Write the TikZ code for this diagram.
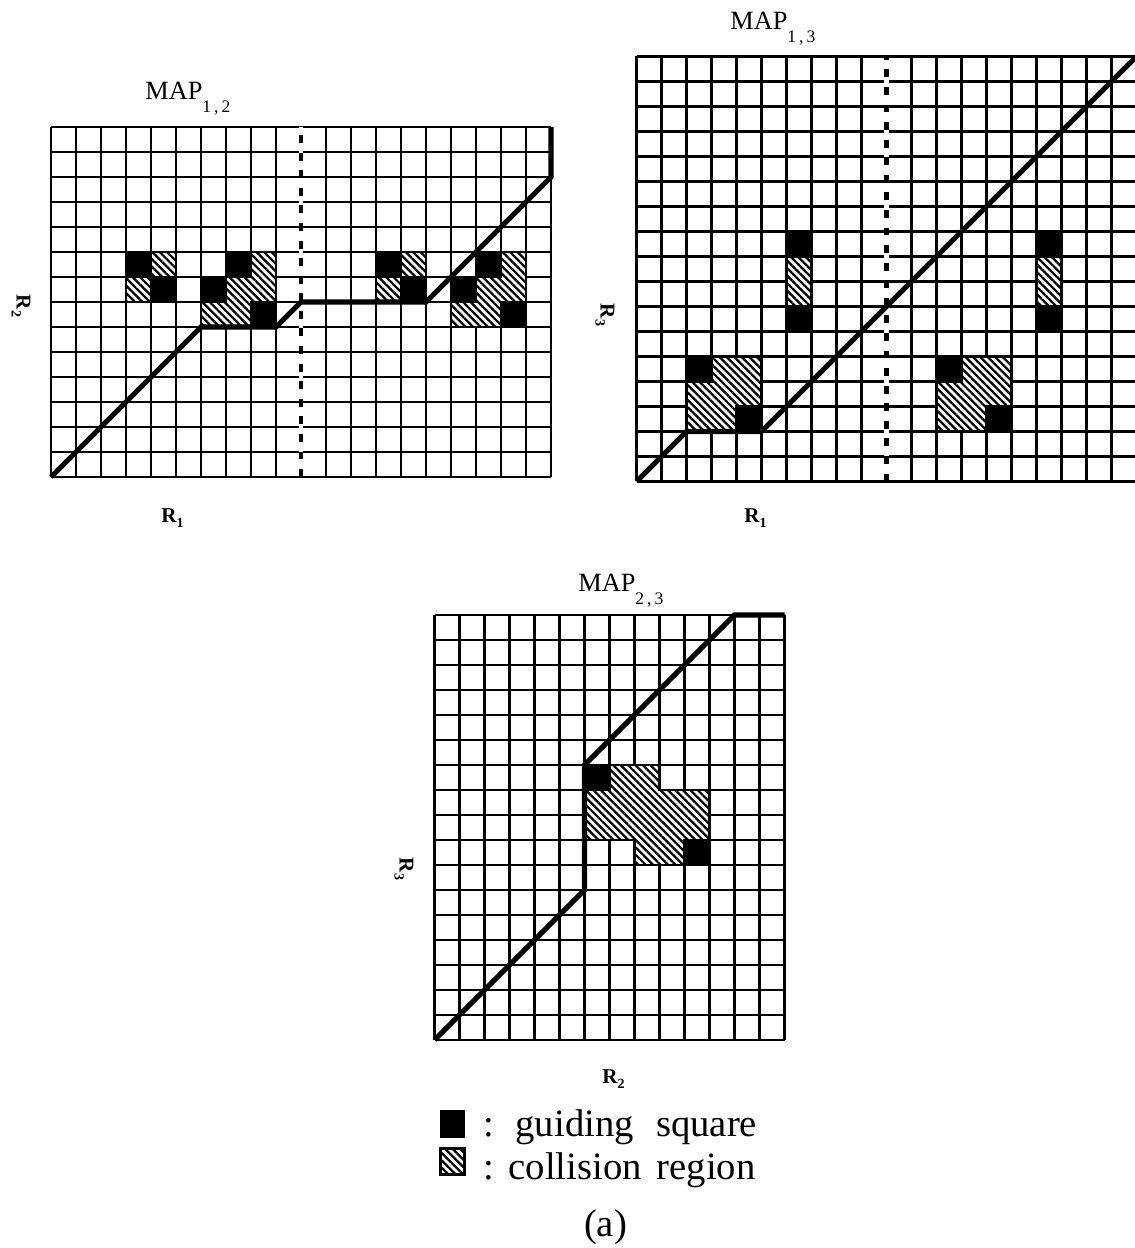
\documentclass[tikz,border=0pt]{standalone}
\usepackage{fontspec}
\setmainfont{Liberation Serif}
\usetikzlibrary{patterns.meta}

\newcommand{\rlab}[1]{R\raisebox{-2.8pt}{\fontsize{8}{9}\selectfont #1}}
\newcommand{\maplab}[1]{MAP\raisebox{-7pt}{\fontsize{10}{12}\selectfont #1}}

\begin{document}
\begin{tikzpicture}[
  gridline/.style={line width=1.2pt},
  route/.style={line width=3pt},
  guide/.style={fill=black},
  collide/.style={fill=white, postaction={pattern={Lines[angle=-45,distance=3pt,line width=1.3pt]}}},
  splitbg/.style={white, line width=2.6pt},
  split/.style={line width=2.6pt, dash pattern=on 4.5pt off 5.5pt},
  maptitle/.style={anchor=base west, inner sep=0pt, font=\fontsize{15}{18}\selectfont},
  axis/.style={inner sep=0pt, font=\fontsize{12}{14}\selectfont\bfseries},
  legend/.style={anchor=base west, inner sep=0pt, font=\fontsize{22}{26}\selectfont}
]
\useasboundingbox (0,0) rectangle (22.7,24.96);
\clip (0,0) rectangle (22.7,24.96);

\begin{scope}[shift={(1.02,15.42)}, scale=0.5]
\draw[gridline] (0,0) grid (20,14);
\draw[splitbg] (10,0) -- (10,14);
\draw[split] (10,0) -- (10,14);
\foreach \dx in {0,10} {
  \begin{scope}[xshift=\dx cm]
  \fill[collide] (4,8) rectangle (5,9);
  \fill[collide] (3,7) rectangle (4,8);
  \fill[collide] (8,9) -- (9,9) -- (9,7) -- (8,7) -- (8,6) -- (6,6) -- (6,7) -- (7,7) -- (7,8) -- (8,8) -- cycle;
  \draw[gridline] (4,8) rectangle (5,9);
  \draw[gridline] (3,7) rectangle (4,8);
  \draw[gridline] (8,9) -- (9,9) -- (9,7) -- (8,7) -- (8,6) -- (6,6) -- (6,7) -- (7,7) -- (7,8) -- (8,8) -- cycle;
  \fill[guide] (3,8) rectangle (4,9);
  \fill[guide] (4,7) rectangle (5,8);
  \fill[guide] (7,8) rectangle (8,9);
  \fill[guide] (6,7) rectangle (7,8);
  \fill[guide] (8,6) rectangle (9,7);
  \end{scope}
}
\draw[route] (0,0) -- (6,6) -- (9,6) -- (10,7) -- (15,7) -- (20,12) -- (20,14);
\end{scope}

\begin{scope}[shift={(12.73,15.33)}, scale=0.5]
\draw[gridline] (0,0) grid (20,17);
\draw[splitbg] (10,0) -- (10,17);
\draw[split] (10,0) -- (10,17);
\foreach \dx in {0,10} {
  \begin{scope}[xshift=\dx cm]
  \fill[collide] (6,7) rectangle (7,9);
  \fill[collide] (3,5) -- (5,5) -- (5,3) -- (4,3) -- (4,2) -- (2,2) -- (2,4) -- (3,4) -- cycle;
  \draw[gridline] (6,7) rectangle (7,9);
  \draw[gridline] (3,5) -- (5,5) -- (5,3) -- (4,3) -- (4,2) -- (2,2) -- (2,4) -- (3,4) -- cycle;
  \fill[guide] (6,9) rectangle (7,10);
  \fill[guide] (6,6) rectangle (7,7);
  \fill[guide] (2,4) rectangle (3,5);
  \fill[guide] (4,2) rectangle (5,3);
  \end{scope}
}
\draw[route] (0,0) -- (2,2) -- (5,2) -- (20,17);
\end{scope}

\begin{scope}[shift={(8.69,4.16)}, scale=0.5]
\draw[gridline] (0,0) grid (14,17);
\fill[collide] (7,11) -- (9,11) -- (9,10) -- (11,10) -- (11,8) -- (10,8) -- (10,7) -- (8,7) -- (8,8) -- (6,8) -- (6,10) -- (7,10) -- cycle;
\draw[gridline] (7,11) -- (9,11) -- (9,10) -- (11,10) -- (11,8) -- (10,8) -- (10,7) -- (8,7) -- (8,8) -- (6,8) -- (6,10) -- (7,10) -- cycle;
\fill[guide] (6,10) rectangle (7,11);
\fill[guide] (10,7) rectangle (11,8);
\draw[route] (0,0) -- (6,6) -- (6,11) -- (12,17) -- (14,17);
\end{scope}

\node[maptitle] (title12) at (2.9,22.96) {\maplab{1\,,\,2}};
\node[maptitle] (title13) at (14.6,24.36) {\maplab{1\,,\,3}};
\node[maptitle] (title23) at (11.56,13.12) {\maplab{2\,,\,3}};

\node[axis, anchor=base west] (r1a) at (3.22,14.5) {\rlab{1}};
\node[axis, anchor=base west] (r1b) at (14.88,14.5) {\rlab{1}};
\node[axis, anchor=base west] (r2b) at (12.04,3.28) {\rlab{2}};
\node[axis, rotate=-90] (r2a) at (0.42,18.84) {\rlab{2}};
\node[axis, rotate=-90] (r3a) at (12.1,18.66) {\rlab{3}};
\node[axis, rotate=-90] (r3b) at (8.08,7.58) {\rlab{3}};

\node[guide, inner sep=0pt, minimum width=0.5cm, minimum height=0.56cm] (keyguide) at (9.05,2.48) {};
\node[collide, draw, line width=1.2pt, inner sep=0pt, minimum width=0.48cm, minimum height=0.52cm] (keycollide) at (9.05,1.73) {};
\node[legend] (keyguidetxt) at (9.67,2.22) {:\hspace{0.42cm}guiding\hspace{0.45cm}square};
\node[legend] (keycollidetxt) at (9.67,1.36) {:\hspace{0.28cm}collision\hspace{0.3cm}region};
\node[anchor=base, inner sep=0pt, font=\fontsize{22}{26}\selectfont] (caption) at (12.11,0.24) {(a)};
\end{tikzpicture}
\end{document}
